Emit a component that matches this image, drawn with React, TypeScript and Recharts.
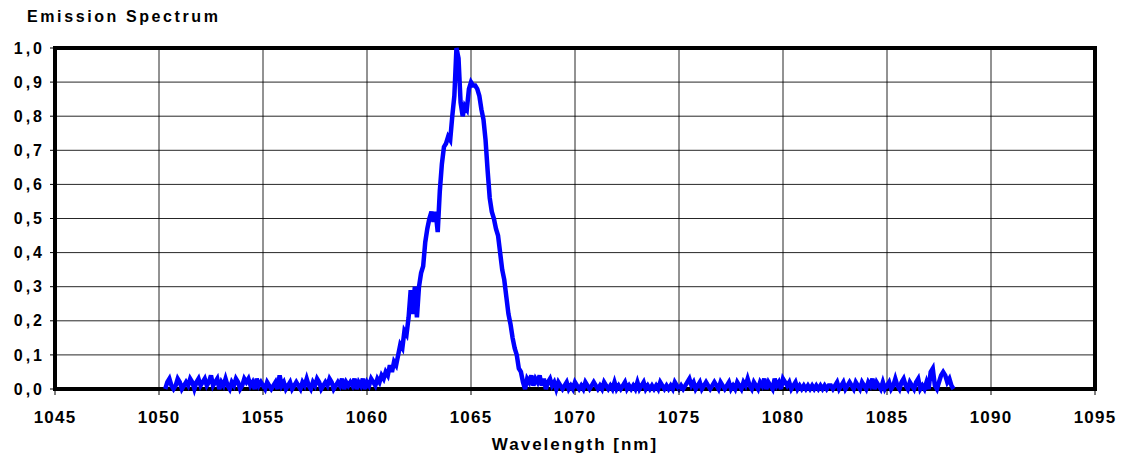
import { CartesianGrid, Line, LineChart, ReferenceArea, XAxis, YAxis } from 'recharts';

const STEP = 0.1;

const baseLeftStart = 1050.3;
const baseLeft = [
  0.0, 0.02, 0.03, 0.01, 0.0, 0.01, 0.03, 0.02, 0.0, 0.01,
  0.02, 0.01, 0.03, 0.02, 0.0, 0.02, 0.03, 0.01, 0.02, 0.03,
  0.01, 0.02, 0.04, 0.01, 0.02, 0.03, 0.0, 0.02, 0.01, 0.03,
  0.01, 0.0, 0.02, 0.01, 0.03, 0.02, 0.0, 0.01, 0.03, 0.02,
  0.03, 0.01, 0.02, 0.0, 0.03, 0.01, 0.02, 0.01, 0.0, 0.02,
  0.01, 0.0, 0.01, 0.02, 0.0, 0.04, 0.01, 0.02, 0.0, 0.01,
  0.02, 0.0, 0.01, 0.02, 0.01, 0.0, 0.02, 0.01, 0.03, 0.01,
  0.0, 0.02, 0.01, 0.03, 0.02, 0.0, 0.01, 0.02, 0.01, 0.03,
  0.02, 0.0, 0.01, 0.02, 0.01, 0.03, 0.0, 0.02, 0.01, 0.02,
  0.01, 0.03, 0.0, 0.02, 0.01, 0.03, 0.0, 0.02, 0.01, 0.03,
];

const peakStart = 1060.3;
const peak = [
  0.02, 0.01, 0.03, 0.02, 0.04, 0.03, 0.05,
  0.04, 0.07, 0.05, 0.08, 0.07, 0.1, 0.13, 0.12, 0.17, 0.16,
  0.21, 0.29, 0.22, 0.3, 0.21, 0.3, 0.34, 0.36, 0.43, 0.47,
  0.5, 0.52, 0.49, 0.52, 0.46, 0.58, 0.66, 0.71, 0.72, 0.74,
  0.73, 0.8, 0.86, 1.0, 0.97, 0.84, 0.8, 0.83, 0.82, 0.88,
  0.9, 0.89, 0.89, 0.88, 0.86, 0.82, 0.79, 0.73, 0.64, 0.56,
  0.52, 0.5, 0.47, 0.45, 0.4, 0.35, 0.32, 0.27, 0.22, 0.19,
  0.15, 0.12, 0.1, 0.06, 0.05, 0.02, 0.0, 0.03,
];

const baseRightStart = 1067.8;
const baseRight = [
  0.02, 0.04, 0.01, 0.03, 0.02, 0.04, 0.01, 0.03, 0.0, 0.02,
  0.03, 0.01, 0.02, 0.0, 0.02, 0.01, 0.0, 0.01, 0.02, 0.0,
  0.01, 0.0, 0.02, 0.01, 0.0, 0.01, 0.0, 0.02, 0.01, 0.0,
  0.01, 0.02, 0.01, 0.0, 0.01, 0.0, 0.02, 0.01, 0.0, 0.01,
  0.0, 0.02, 0.0, 0.01, 0.0, 0.01, 0.02, 0.0, 0.01, 0.0,
  0.01, 0.0, 0.02, 0.0, 0.01, 0.02, 0.0, 0.01, 0.0, 0.01,
  0.0, 0.01, 0.0, 0.02, 0.01, 0.0, 0.01, 0.0, 0.01, 0.0,
  0.02, 0.01, 0.0, 0.01, 0.0, 0.01, 0.02, 0.03, 0.01, 0.02,
  0.0, 0.01, 0.02, 0.0, 0.01, 0.02, 0.01, 0.0, 0.01, 0.02,
  0.01, 0.0, 0.02, 0.01, 0.0, 0.01, 0.02, 0.0, 0.01, 0.0,
  0.02, 0.01, 0.0, 0.02, 0.01, 0.03, 0.01, 0.0, 0.02, 0.01,
  0.0, 0.02, 0.01, 0.03, 0.0, 0.02, 0.01, 0.0, 0.03, 0.01,
  0.02, 0.0, 0.03, 0.02, 0.01, 0.02, 0.0, 0.01, 0.02, 0.0,
  0.01, 0.0, 0.01, 0.0, 0.01, 0.0, 0.01, 0.0, 0.01, 0.0,
  0.01, 0.0, 0.01, 0.0, 0.01, 0.01, 0.0, 0.01, 0.02, 0.0,
  0.01, 0.02, 0.0, 0.01, 0.02, 0.01, 0.0, 0.02, 0.01, 0.0,
  0.02, 0.01, 0.0, 0.02, 0.01, 0.03, 0.0, 0.02, 0.01, 0.0,
  0.02, 0.0, 0.01, 0.02, 0.0, 0.01, 0.03, 0.01, 0.0, 0.02,
  0.03, 0.01, 0.0, 0.02, 0.01, 0.0, 0.02, 0.03, 0.0, 0.01,
  0.0, 0.02, 0.0, 0.05, 0.06, 0.01, 0.0, 0.02, 0.04, 0.05,
  0.04, 0.02, 0.03, 0.01, 0.0,
];

const xTicks = [1045, 1050, 1055, 1060, 1065, 1070, 1075, 1080, 1085, 1090, 1095];
const yTicks = [0, 0.1, 0.2, 0.3, 0.4, 0.5, 0.6, 0.7, 0.8, 0.9, 1.0];

const toPoints = (start: number, values: number[]) =>
  values.map((v, i) => ({ wl: Math.round((start + i * STEP) * 10) / 10, value: v }));

const data = [
  ...toPoints(baseLeftStart, baseLeft),
  ...toPoints(peakStart, peak),
  ...toPoints(baseRightStart, baseRight),
];

const font = "'Liberation Sans', Arial, sans-serif";
const commaFmt = (v: number) => v.toFixed(1).replace('.', ',');

export default function App() {
  return (
    <div style={{ position: 'absolute', left: 0, top: 0, width: 1125, height: 457, background: '#fff' }}>
      <div
        style={{
          position: 'absolute',
          left: 27,
          top: 8,
          fontFamily: font,
          fontWeight: 'bold',
          fontSize: 16,
          letterSpacing: 2.6,
          color: '#000',
        }}
      >
        Emission Spectrum
      </div>
      <LineChart width={1125} height={457} data={data} margin={{ top: 48, right: 30, bottom: 0, left: 0 }}>
        <CartesianGrid stroke="#000" strokeWidth={1} strokeOpacity={0.85} />
        <XAxis
          dataKey="wl"
          type="number"
          domain={[1045, 1095]}
          ticks={xTicks}
          height={68}
          axisLine={false}
          tickLine={{ stroke: '#000' }}
          tickSize={6}
          tickMargin={16}
          tick={{ fill: '#000', fontFamily: font, fontWeight: 'bold', fontSize: 17, letterSpacing: 1.2 }}
          label={{
            value: 'Wavelength [nm]',
            position: 'insideBottom',
            offset: 7,
            fill: '#000',
            fontFamily: font,
            fontWeight: 'bold',
            fontSize: 17,
            letterSpacing: 2,
          }}
        />
        <YAxis
          type="number"
          domain={[0, 1]}
          ticks={yTicks}
          width={55}
          axisLine={false}
          tickLine={{ stroke: '#000' }}
          tickSize={5}
          tickMargin={5}
          tickFormatter={commaFmt}
          tick={{ fill: '#000', fontFamily: font, fontWeight: 'bold', fontSize: 16, letterSpacing: 3 }}
        />
        <ReferenceArea x1={1045} x2={1095} y1={0} y2={1} fill="none" stroke="#000" strokeWidth={4} ifOverflow="visible" />
        <Line
          type="linear"
          dataKey="value"
          stroke="#0000ff"
          strokeWidth={4.5}
          dot={false}
          isAnimationActive={false}
        />
      </LineChart>
    </div>
  );
}
